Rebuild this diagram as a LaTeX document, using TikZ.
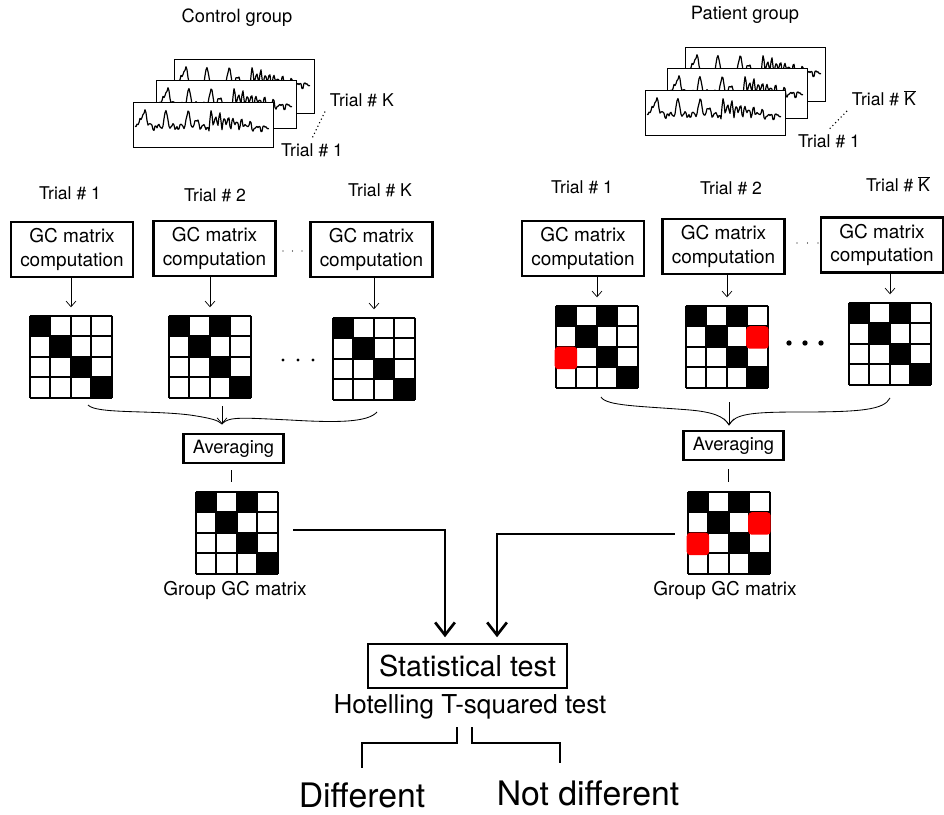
\documentclass[tikz,border=0pt]{standalone}
\usepackage{fontspec}
\setmainfont{TeX Gyre Heros}
\usetikzlibrary{arrows.meta}

% 4x4 GC matrix: name, top-left x, top-left y, black cells
\newcommand{\gcmat}[4]{%
    \node[inner sep=0pt, minimum size=2.05cm] (#1) at (#2+41,#3+41) {};
    \begin{scope}[shift={(#1.north west)}]
        \foreach \ri/\ci in {#4} \fill (\ci*20.5,\ri*20.5) rectangle ++(20.5,20.5);
        \foreach \k in {0,...,4} {
            \draw[cellgrid] (\k*20.5,0) -- (\k*20.5,82);
            \draw[cellgrid] (0,\k*20.5) -- (82,\k*20.5);
        }
    \end{scope}}
\newcommand{\redcell}[3]{%
    \fill[red, rounded corners=2.5pt, shift={(#1.north west)}] (#3*20.5-1,#2*20.5) rectangle ++(22.5,22.5);}

\begin{document}
\begin{tikzpicture}[x=0.025cm, y=-0.025cm,
    declare function={spike(\u)=1/(1+\u*\u);
        eeg(\t)=2*sin(47*\t)+1.5*sin(83*\t+40)+1.2*sin(117*\t)
            +20*spike((\t-12)/1.6)+9*spike((\t-7)/1.5)+18*spike((\t-33)/1.5)
            +17*spike((\t-55)/1.6)+7*spike((\t-64)/2)
            +(\t>76)*(\t<120)*(14-(\t-76)/4)*abs(sin(42*(\t-76)));},
    lbl/.style={font=\fontsize{12.5}{15}\selectfont},
    gcbox/.style={draw, line width=1.6pt, align=center, inner sep=2pt,
        minimum width=3.05cm, minimum height=1.375cm, font=\fontsize{13.5}{17}\selectfont},
    avgbox/.style={draw, line width=1.5pt, inner sep=2pt,
        minimum width=2.5cm, minimum height=0.73cm, font=\fontsize{13}{15}\selectfont},
    cellgrid/.style={line width=1.3pt},
    signal/.style={line width=0.85pt, line join=round},
    thin/.style={-{Straight Barb[length=4pt, width=7pt]}, line width=0.5pt},
    flow/.style={-{Straight Barb[length=9pt, width=14pt]}, line width=1.9pt},
    bracket/.style={line width=1.5pt}]

\useasboundingbox (0,0) rectangle (944,814);

\node[lbl, font=\fontsize{13}{15}\selectfont] (ctl) at (237,18) {Control group};
\node[lbl, font=\fontsize{13}{15}\selectfont] (pat) at (745,15) {Patient group};

\foreach \fx/\fy/\fh in {174/59/54, 156/80/48, 133/102/45, 685/47/54, 667/68/50, 645/90/45} {
    \filldraw[fill=white, line width=0.7pt] (\fx,\fy) rectangle ++(140,\fh);
    \draw[signal] plot[domain=2:136, samples=135] ({\fx+\x},{\fy+26-eeg(\x)});
}

\node[lbl, anchor=west] (skl) at (325,100) {Trial \# K};
\node[lbl] (s1l) at (312,150) {Trial \# 1};
\node[lbl, anchor=west] (skr) at (847,98) {Trial \# $\overline{\mbox{K}}$};
\node[lbl] (s1r) at (829,141) {Trial \# 1};
\draw[dotted, line width=0.8pt] (skl.south west) -- (s1l.north);
\draw[dotted, line width=0.8pt] (skr.south west) -- (s1r.north);

\node[lbl] (tl1) at (70,193) {Trial \# 1};
\node[lbl] (tl2) at (215,195) {Trial \# 2};
\node[lbl] (tlk) at (380,190) {Trial \# K};
\node[lbl] (tr1) at (582,187) {Trial \# 1};
\node[lbl] (tr2) at (731,188) {Trial \# 2};
\node[lbl] (trk) at (898,184) {Trial \# $\overline{\mbox{K}}$};

\node[gcbox] (gl1) at (72,249.5) {GC matrix\\computation};
\node[gcbox] (gl2) at (214.5,248.5) {GC matrix\\computation};
\node[gcbox] (glk) at (371.5,249.5) {GC matrix\\computation};
\node[gcbox] (gr1) at (583,248.5) {GC matrix\\computation};
\node[gcbox] (gr2) at (723.5,246.5) {GC matrix\\computation};
\node[gcbox] (grk) at (882,245) {GC matrix\\computation};

\foreach \dx in {0,1,2} {
    \fill (283+\dx*9.5,251) circle (0.5pt);
    \fill (797+\dx*10.5,243) circle (0.5pt);
    \fill (283+\dx*15,360) circle (1.1pt);
    \fill (789+\dx*16,343) circle (1.9pt);
}

\gcmat{ml1}{30}{316}{0/0,1/1,2/2,3/3}
\gcmat{ml2}{169}{316}{0/0,0/2,1/1,2/2,3/3}
\gcmat{mlk}{333}{318}{0/0,1/1,2/2,3/3}
\gcmat{mr1}{556}{306}{0/0,0/2,1/1,2/2,3/3}
\gcmat{mr2}{686}{306}{0/0,0/2,1/1,2/2,3/3}
\gcmat{mrk}{849}{303}{0/0,0/2,1/1,2/2,3/3}
\redcell{mr1}{2}{0}
\redcell{mr2}{1}{3}

\draw[thin, shorten >=6pt] (gl1.south -| ml1.north) -- (ml1.north);
\draw[thin, shorten >=6pt] (gl2.south -| ml2.north) -- (ml2.north);
\draw[thin, shorten >=6pt] (glk.south -| mlk.north) -- (mlk.north);
\draw[thin, shorten >=6pt] (gr1.south -| mr1.north) -- (mr1.north);
\draw[thin, shorten >=6pt] (gr2.south -| mr2.north) -- (mr2.north);
\draw[thin, shorten >=6pt] (grk.south -| mrk.north) -- (mrk.north);

\draw[line width=0.6pt] (88,405) .. controls (96,414) and (150,410) .. (190,415)
    .. controls (210,418) and (218,420) .. (222,424)
    .. controls (228,416) and (245,418) .. (290,420)
    .. controls (340,423) and (368,422) .. (377,412);
\coordinate (bl) at (222,424);
\draw[thin] (bl) ++(0,-18) -- (bl);

\draw[line width=0.6pt] (601,397) .. controls (606,406) and (640,406) .. (690,410)
    .. controls (712,412) and (724,416) .. (729,425)
    .. controls (735,414) and (750,412) .. (800,412)
    .. controls (860,412) and (884,410) .. (890,398);
\coordinate (br) at (729,425);
\draw[thin] (br) ++(0,-23) -- (br);

\node[avgbox] (avl) at (233.5,448.5) {Averaging};
\node[avgbox] (avr) at (733.5,445.5) {Averaging};

\gcmat{gml}{196}{492}{0/0,0/2,1/1,2/2,3/3}
\gcmat{gmr}{688}{492}{0/0,0/2,1/1,2/2,3/3}
\redcell{gmr}{1}{3}
\redcell{gmr}{2}{0}

\draw[line width=0.6pt] (avl.south) ++(-2,6) -- ++(0,12);
\draw[line width=0.6pt] (avr.south) ++(-5,8) -- ++(0,13);

\node[lbl, font=\fontsize{13.5}{16}\selectfont] (gtl) at (235,590) {Group GC matrix};
\node[lbl, font=\fontsize{13.5}{16}\selectfont] (gtr) at (725,590) {Group GC matrix};

\node[draw, line width=1.6pt, minimum width=4.975cm, minimum height=1.1cm, inner sep=2pt,
    font=\fontsize{20.5}{24}\selectfont] (stat) at (467.5,666) {Statistical test};
\node[font=\fontsize{18.5}{22}\selectfont] (hot) at (470,707) {Hotelling T-squared test};

\draw[flow] (gml.east) ++(15,-3) -| ([xshift=-16pt, yshift=4pt]stat.north);
\draw[flow] (gmr.west) ++(-13,1) -| ([xshift=21pt, yshift=4pt]stat.north);

\node[font=\fontsize{24}{28}\selectfont, inner sep=1pt] (diff) at (362,795) {Different};
\node[font=\fontsize{24}{28}\selectfont, inner sep=1pt] (ndiff) at (588,793) {Not different};

\draw[bracket] (hot.center) ++(-13,20) -- ++(0,16) -| ([yshift=9pt]diff.north);
\draw[bracket] (hot.center) ++(2,20) -- ++(0,16) -| ([xshift=-20pt, yshift=11pt]ndiff.north);

\end{tikzpicture}
\end{document}
